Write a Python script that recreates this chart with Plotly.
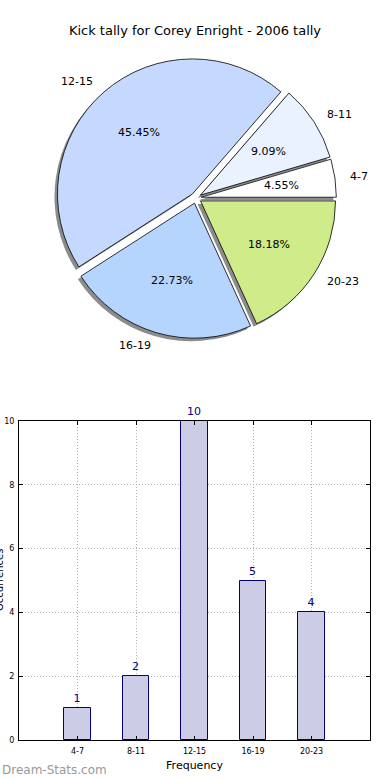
import numpy as np
import plotly.graph_objects as go

# ---- data ----
categories = ["4-7", "8-11", "12-15", "16-19", "20-23"]
kick_counts = [1, 2, 10, 5, 4]
pie_colors = ["#FFFFFF", "#EAF1FF", "#C5D9FF", "#B5D5FF", "#CFEB8A"]
y_ticks = [0, 2, 4, 6, 8, 10]
title_text = "Kick tally for Corey Enright - 2006 tally"

W, H = 390, 780
FONT = "DejaVu Sans"

# pie geometry (pixels)
cx, cy = 196.0, 198.0      # centre, from top-left
r = 135.0
pull = 0.04
half = r * (1 + pull)

def px_x(x):
    return x / W

def px_y(y):
    return 1 - y / H

pie_dom_x = [px_x(cx - half), px_x(cx + half)]
pie_dom_y = [px_y(cy + half), px_y(cy - half)]

total = float(sum(kick_counts))
fracs = np.array(kick_counts) / total
# plotly: for counterclockwise pies, rotation marks the far edge of the first slice
rotation = 90 - fracs[0] * 360

fig = go.Figure()

# shadow
sh = 3.0
fig.add_trace(go.Pie(
    values=kick_counts, labels=categories, sort=False, direction="counterclockwise",
    rotation=rotation, pull=[pull] * len(kick_counts), textinfo="none", hoverinfo="skip",
    marker=dict(colors=["rgba(0,0,0,0.45)"] * len(kick_counts), line=dict(width=0)),
    domain=dict(x=[pie_dom_x[0] - sh / W, pie_dom_x[1] - sh / W],
                y=[pie_dom_y[0] - sh / H, pie_dom_y[1] - sh / H]),
    showlegend=False,
))

fig.add_trace(go.Pie(
    values=kick_counts, labels=categories, sort=False, direction="counterclockwise",
    rotation=rotation, pull=[pull] * len(kick_counts), textinfo="none",
    marker=dict(colors=pie_colors, line=dict(color="black", width=0.8)),
    domain=dict(x=pie_dom_x, y=pie_dom_y),
    showlegend=False,
))

# pie label annotations computed from the data
starts = np.concatenate([[0.0], np.cumsum(fracs)[:-1]]) * 360.0
mids = np.deg2rad(starts + fracs * 180.0)
annotations = []
for lab, f, th in zip(categories, fracs, mids):
    dx, dy = np.cos(th), np.sin(th)
    ex, ey = cx + pull * r * dx, cy - pull * r * dy
    annotations.append(dict(
        x=px_x(ex + 0.6 * r * dx), y=px_y(ey - 0.6 * r * dy), xref="paper", yref="paper",
        text=f"{f * 100:.2f}%", showarrow=False, xanchor="center", yanchor="middle",
        font=dict(family=FONT, size=11, color="black")))
    annotations.append(dict(
        x=px_x(ex + 1.1 * r * dx), y=px_y(ey - 1.1 * r * dy), xref="paper", yref="paper",
        text=lab, showarrow=False, xanchor="left" if dx > 0 else "right", yanchor="middle",
        font=dict(family=FONT, size=11, color="black")))

# bar chart
fig.add_trace(go.Bar(
    x=categories, y=kick_counts, width=0.45,
    marker=dict(color="#CCCCE6", line=dict(color="#000080", width=1)),
    text=[str(v) for v in kick_counts], textposition="outside", cliponaxis=False,
    textfont=dict(family=FONT, size=11, color="#000080"),
    xaxis="x", yaxis="y", showlegend=False,
))

# y axis title (clipped at the left edge as in the original)
annotations.append(dict(
    x=px_x(-1), y=px_y(580), xref="paper", yref="paper", text="Occurrences",
    textangle=-90, showarrow=False, xanchor="center", yanchor="middle",
    font=dict(family=FONT, size=10, color="black")))
# watermark
annotations.append(dict(
    x=0, y=px_y(770), xref="paper", yref="paper", text="Dream-Stats.com",
    showarrow=False, xanchor="left", yanchor="middle",
    font=dict(family=FONT, size=12, color="#999999")))

grid = dict(showgrid=True, gridcolor="#b0b0b0", griddash="1px,2px", gridwidth=1)
fig.update_layout(
    width=W, height=H, margin=dict(l=0, r=0, t=0, b=0, autoexpand=False),
    paper_bgcolor="white", plot_bgcolor="white",
    font=dict(family=FONT, color="black"),
    title=dict(text=title_text, x=0.5, xanchor="center", y=px_y(30), yanchor="middle",
               yref="container", font=dict(family=FONT, size=13, color="black")),
    xaxis=dict(domain=[px_x(19), px_x(370)], anchor="y", range=[-1, 5], automargin=False,
               type="category", categoryorder="array", categoryarray=categories,
               showline=True, mirror="allticks", linecolor="black", linewidth=1,
               ticks="inside", ticklen=4, tickcolor="black", ticklabelstandoff=3,
               tickfont=dict(family=FONT, size=8), zeroline=False,
               title=dict(text="Frequency", font=dict(family=FONT, size=11), standoff=6),
               **grid),
    yaxis=dict(domain=[px_y(740), px_y(421)], anchor="x", range=[0, 10], automargin=False,
               tickvals=y_ticks, showline=True, mirror="allticks", linecolor="black",
               linewidth=1, ticks="inside", ticklen=4, tickcolor="black",
               ticklabelstandoff=2,
               tickfont=dict(family=FONT, size=8), zeroline=False, **grid),
    annotations=annotations,
    bargap=0,
)

fig.write_html(
    "out.html",
    config={"displayModeBar": False},
    post_script="document.body.style.margin='0';document.body.style.padding='0';",
)
